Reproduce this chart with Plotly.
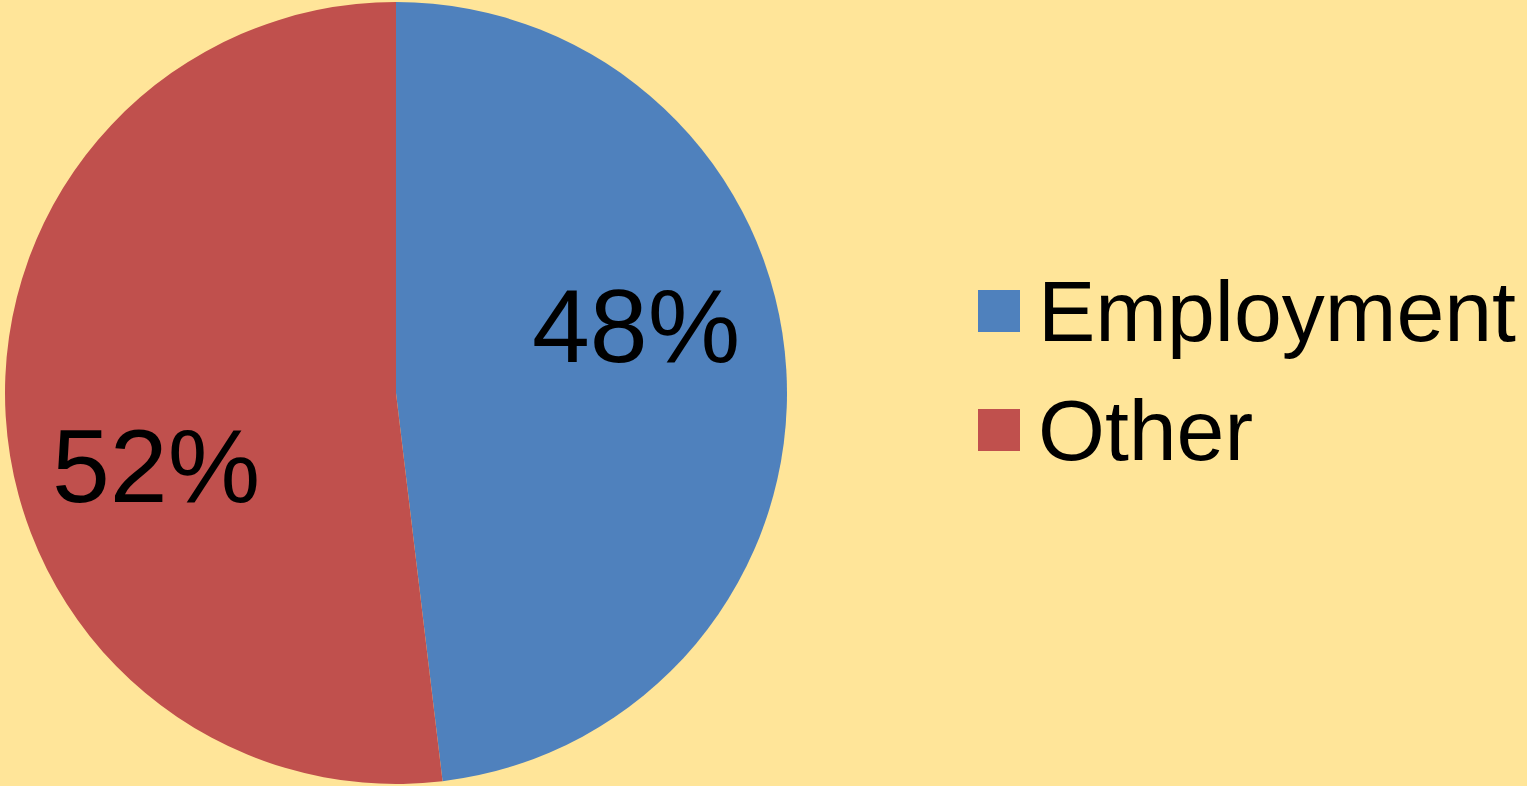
import math
import plotly.graph_objects as go

labels = ["Employment", "Other"]
values = [48.1, 51.9]
colors = ["#4F81BD", "#C0504D"]

W, H = 1527, 786
FONT = "Liberation Sans, Arial, sans-serif"

# pie geometry (pixels) derived from domain
dom_x = [5 / W, 787 / W]
cx = (dom_x[0] + dom_x[1]) / 2 * W
cy = H / 2
R = min((dom_x[1] - dom_x[0]) * W, H) / 2

fig = go.Figure()
fig.add_trace(go.Pie(
    labels=labels,
    values=values,
    sort=False,
    direction="clockwise",
    rotation=0,
    marker=dict(colors=colors, line=dict(width=0)),
    textinfo="none",
    domain=dict(x=dom_x, y=[0, 1]),
    showlegend=False,
    hoverinfo="label+percent",
))

# percentage labels, placed like the original (Excel best-fit style)
total = sum(values)
cum = 0.0
for v in values:
    mid = (cum + v / 2) / total * 360.0
    cum += v
    ang = math.radians(mid - 12.75)
    r = 0.64 * R
    px = cx + r * math.sin(ang)
    py = cy - r * math.cos(ang) + 3
    fig.add_annotation(xref="paper", yref="paper",
                       x=px / W, y=1 - py / H,
                       xanchor="center", yanchor="middle",
                       text=f"{v / total:.0%}", showarrow=False,
                       font=dict(family=FONT, size=104, color="black"))

# custom legend (large swatches)
sw = 42
x0 = 978
ys = [290, 409]
for lab, col, y in zip(labels, colors, ys):
    fig.add_shape(type="rect", xref="paper", yref="paper",
                  x0=x0 / W, x1=(x0 + sw) / W,
                  y0=1 - (y + sw) / H, y1=1 - y / H,
                  fillcolor=col, line=dict(width=0))
    fig.add_annotation(xref="paper", yref="paper",
                       x=1036 / W, y=1 - (y + sw / 2) / H,
                       xanchor="left", yanchor="middle",
                       text=lab, showarrow=False,
                       font=dict(family=FONT, size=86, color="black"))

fig.update_layout(
    width=W, height=H,
    margin=dict(l=0, r=0, t=0, b=0),
    paper_bgcolor="#FFE599",
    plot_bgcolor="#FFE599",
)

fig.write_html("out.html", config={"displayModeBar": False},
               post_script="document.body.style.margin='0';document.body.style.background='#FFE599';")
